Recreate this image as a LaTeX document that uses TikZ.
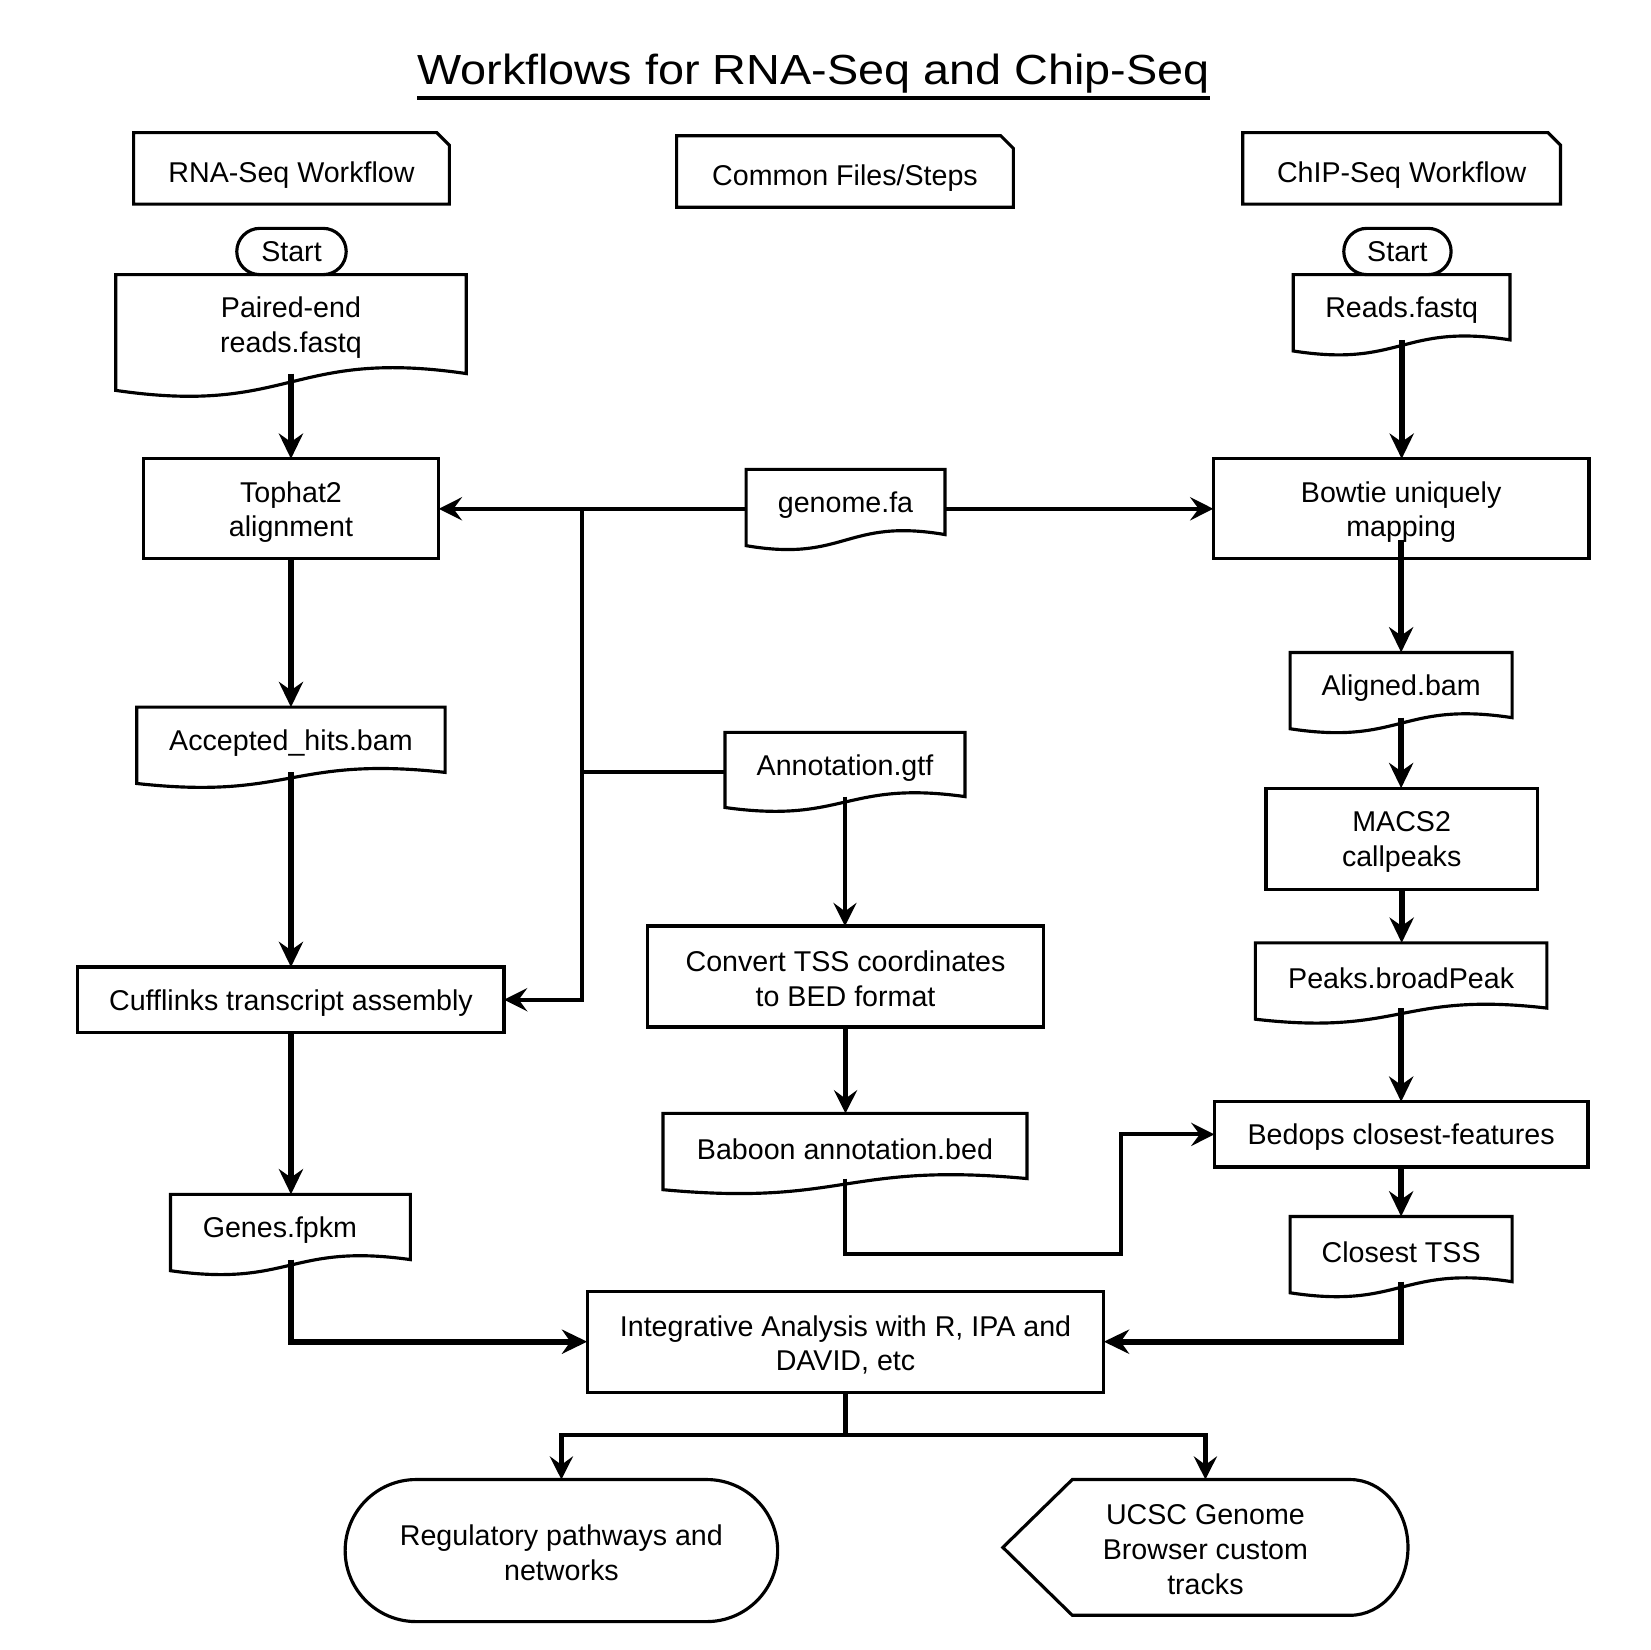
\documentclass[tikz,border=0pt]{standalone}
\usepackage{graphicx}
\usepackage{fontspec}
\setmainfont{Liberation Sans}
\usetikzlibrary{arrows.meta,calc,shapes.misc}

\newcommand\docshape[1]{%
  \draw[boxline] let \p1=(#1.north east), \p2=(#1.south west),
    \n1={\y1-\y2}, \n2={\x1-\x2} in
    ($(#1.south west)+(0pt,-0.17*\n1)$) -- (#1.north west) -- (#1.north east) -- (#1.south east)
    .. controls ($(#1.south east)+(-0.5*\n2,0.26*\n1)$) and ($(#1.south west)+(0.5*\n2,-0.43*\n1)$)
    .. ($(#1.south west)+(0pt,-0.17*\n1)$) -- cycle;}
\newcommand\cardshape[1]{%
  \draw[boxline] (#1.south west) -- (#1.north west) -- ([xshift=-6pt]#1.north east)
    -- ([yshift=-6pt]#1.north east) -- (#1.south east) -- cycle;}
\newcommand\lowA{\rule{0pt}{12.9pt}}
\newcommand\lowB{\rule{0pt}{11.7pt}}

\begin{document}
\begin{tikzpicture}[x=0.5pt,y=-0.5pt,
  every node/.style={font=\fontsize{13.6}{16.5}\selectfont, align=center, inner sep=0pt, outer sep=0pt},
  lowtext/.style={execute at begin node={\rule{0pt}{12.9pt}}},
  lowertext/.style={execute at begin node={\rule{0pt}{15.9pt}}},
  boxline/.style={draw=black, line width=1.5pt, line join=miter},
  procbox/.style={boxline, rectangle, lowtext},
  docbox/.style={rectangle, lowtext},
  cardbox/.style={rectangle, lowertext},
  termbox/.style={boxline, rounded rectangle},
  conn/.style={line width=2pt, -{Stealth[length=11pt,width=11pt,inset=4pt]}},
  thickconn/.style={line width=2.9pt, -{Stealth[length=12pt,width=11.5pt,inset=4pt]}},
  plainline/.style={line width=2pt},
]
\fill[white] (0,0) rectangle (1568,1568);
\useasboundingbox (0,0) rectangle (1568,1568);

% title
\node[font=\fontsize{20}{24}\selectfont, anchor=base] (title) at (773,80)
  {\scalebox{1.112}[1]{Workflows for RNA-Seq and Chip-Seq}};
\draw[line width=1.6pt] ([yshift=-6.5pt]title.base west) -- ([yshift=-6.5pt]title.base east);

% header cards
\node[cardbox, minimum width=150pt, minimum height=34pt] (hrna) at (277,160) {RNA-Seq Workflow};
\node[cardbox, minimum width=160pt, minimum height=34pt] (hcom) at (803,163) {Common Files/Steps};
\node[cardbox, minimum width=151pt, minimum height=34pt] (hchip) at (1332,160) {ChIP-Seq Workflow};
\cardshape{hrna}\cardshape{hcom}\cardshape{hchip}

% start terminals
\node[termbox, minimum width=52pt, minimum height=22pt] (start1) at (277,239) {Start};
\node[termbox, minimum width=51pt, minimum height=22pt] (start2) at (1328,239) {Start};

% documents
\node[docbox, minimum width=166.5pt, minimum height=47pt] (pe) at (276.5,308) {\lowA Paired-end\\reads.fastq};
\node[docbox, minimum width=103pt, minimum height=31pt] (reads) at (1332,292) {Reads.fastq};
\node[docbox, minimum width=94.5pt, minimum height=31pt] (genome) at (803.5,477) {genome.fa};
\node[docbox, minimum width=146.5pt, minimum height=31pt] (acc) at (276.5,703) {Accepted\_hits.bam};
\node[docbox, minimum width=114pt, minimum height=30.5pt] (annot) at (803,726.5) {Annotation.gtf};
\node[docbox, minimum width=105.5pt, minimum height=31pt] (aligned) at (1331.5,651) {Aligned.bam};
\node[docbox, minimum width=138.5pt, minimum height=31pt] (peaks) at (1331.5,927) {Peaks.broadPeak};
\node[docbox, minimum width=173pt, minimum height=31pt] (baboon) at (803,1089) {Baboon annotation.bed};
\node[docbox, minimum width=114pt, minimum height=31pt] (genes) at (276,1166) {Genes.fpkm\hspace*{10pt}};
\node[docbox, minimum width=105.5pt, minimum height=31pt] (closest) at (1331.5,1187) {Closest TSS};
\docshape{pe}\docshape{reads}\docshape{genome}\docshape{acc}\docshape{annot}
\docshape{aligned}\docshape{peaks}\docshape{baboon}\docshape{genes}\docshape{closest}

% processes
\node[procbox, minimum width=140.5pt, minimum height=47.5pt] (tophat) at (276.5,483.5) {\lowA Tophat2\\alignment};
\node[procbox, minimum width=178.5pt, minimum height=47.5pt] (bowtie) at (1331.5,483.5) {\lowA Bowtie uniquely\\mapping};
\node[procbox, minimum width=129pt, minimum height=48pt] (macs) at (1332,797) {\lowA MACS2\\callpeaks};
\node[procbox, minimum width=202.5pt, minimum height=31pt] (cuff) at (276.5,950) {Cufflinks transcript assembly};
\node[procbox, minimum width=188.5pt, minimum height=48pt] (convert) at (803.5,928) {\lowB Convert TSS coordinates\\to BED format};
\node[procbox, minimum width=177.5pt, minimum height=31pt] (bedops) at (1331.5,1078) {Bedops closest-features};
\node[procbox, minimum width=245.5pt, minimum height=48pt] (integ) at (803.5,1275) {\lowA Integrative Analysis with R, IPA and\\DAVID, etc};

% outputs
\node[termbox, minimum width=205.5pt, minimum height=67.5pt] (reg) at (533.5,1473.5) {\lowB Regulatory pathways and\\networks};
\node[docbox, minimum width=192.5pt, minimum height=64.5pt] (ucsc) at (1145.5,1470.5) {\lowB UCSC Genome\\Browser custom\\tracks};
\draw[boxline] (ucsc.west) -- ([xshift=33pt]ucsc.north west) -- ([xshift=-27.5pt]ucsc.north east)
  arc[start angle=90, end angle=-90, x radius=27.5pt, y radius=32.25pt]
  -- ([xshift=33pt]ucsc.south west) -- cycle;

% left column
\draw[thickconn] (pe.south) -- (tophat.north);
\draw[thickconn] (tophat.south) -- (acc.north);
\draw[thickconn] (acc.south) -- (cuff.north);
\draw[thickconn] (cuff.south) -- (cuff.south |- genes.north);
\draw[thickconn] (genes.south -| cuff.south) |- (integ.west);

% right column
\draw[thickconn] (reads.south) -- (reads.south |- bowtie.north);
\draw[thickconn] ([yshift=-15pt]bowtie.center) -- (aligned.north);
\draw[thickconn] (aligned.south) -- (aligned.south |- macs.north);
\draw[thickconn] (macs.south) -- (macs.south |- peaks.north);
\draw[thickconn] (peaks.south) -- (peaks.south |- bedops.north);
\draw[thickconn] (bedops.south) -- (closest.north);
\draw[thickconn] (closest.south) |- (integ.east);

% middle
\coordinate (busTop) at (553,483.5);
\coordinate (busAnn) at (553,734);
\draw[conn] (genome.west |- tophat.east) -- (tophat.east);
\draw[conn] (genome.east |- bowtie.west) -- (bowtie.west);
\draw[conn] (busTop) |- (cuff.east);
\draw[plainline] (annot.west |- busAnn) -- (busAnn);
\draw[conn] (annot.south) -- (annot.south |- convert.north);
\draw[conn] (convert.south) -- (convert.south |- baboon.north);
\coordinate (bturn) at (1065,1192);
\draw[conn] (baboon.south) |- (bturn) |- (bedops.west);

% bottom split
\coordinate (isplit) at (803.5,1364);
\draw[plainline] (integ.south) -- (isplit);
\draw[conn] (isplit) -| (reg.north);
\draw[conn] (isplit) -| (ucsc.north);
\end{tikzpicture}
\end{document}
